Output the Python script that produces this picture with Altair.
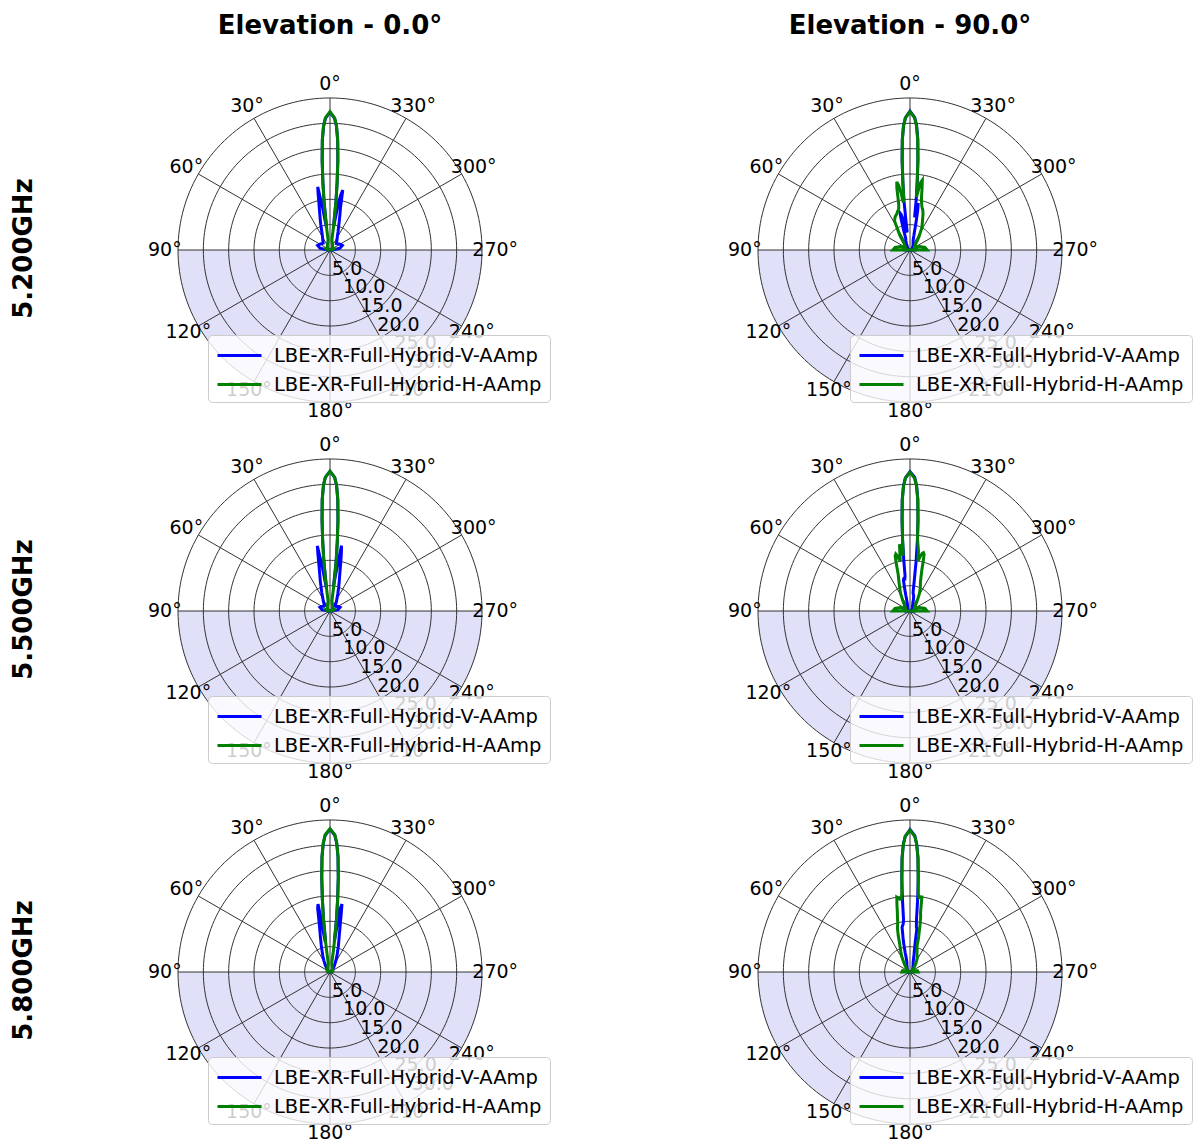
import math
import altair as alt
import pandas as pd

# ---------------- data ----------------
FREQS = ["5.200GHz", "5.500GHz", "5.800GHz"]
ELEVATIONS = ["Elevation - 0.0°", "Elevation - 90.0°"]
SERIES = ["LBE-XR-Full-Hybrid-V-AAmp", "LBE-XR-Full-Hybrid-H-AAmp"]
COLORS = ["#0000ff", "#008000"]

RINGS = [5, 10, 15, 20, 25, 30]
RING_LABELS = ["5.0", "10.0", "15.0", "20.0", "25.0", "30.0"]
SPOKES = [0, 30, 60, 90, 120, 150, 180, 210, 240, 270, 300, 330]
SPOKE_LABELS = ["0°", "30°", "60°", "90°", "120°", "150°", "180°", "210°", "240°", "270°", "300°", "330°"]

# angle in degrees, counter-clockwise from 0° (top)
ANGLES = [-180,
          -90, -80, -70, -60, -45, -35, -28, -24, -20, -18, -16, -15, -14, -13, -12, -11, -10, -9, -8, -7, -6, -5, -4, -3, -2,
          0,
          2, 3, 4, 5, 6, 7, 8, 9, 10, 11, 12, 13, 14, 15, 16, 18, 20, 24, 28, 35, 45, 60, 70, 80, 90,
          180]

V_52_EL0 = [0.0,
            0.5, 2.0, 2.6, 2.3, 1.8, 2.4, 3.1, 3.9, 5.0, 5.9, 7.0, 7.7, 8.5, 10.0, 12.1, 11.0, 8.5, 4.8, 5.5, 9.6, 13.4, 17.7, 21.7, 24.4, 26.0,
            27.2,
            26.0, 24.4, 21.7, 17.7, 13.4, 9.6, 5.5, 4.5, 8.5, 12.7, 11.3, 9.8, 8.8, 8.0, 7.3, 6.2, 5.3, 4.0, 3.2, 2.5, 1.9, 2.3, 2.6, 2.0, 0.5,
            0.0]
H_52_EL0 = [0.0,
            0.0, 0.6, 0.9, 0.8, 0.7, 0.9, 1.1, 1.2, 1.4, 1.5, 1.6, 1.6, 1.7, 1.8, 1.9, 2.0, 2.4, 3.8, 6.3, 9.8, 13.5, 17.8, 21.8, 24.5, 26.1,
            27.3,
            26.1, 24.5, 21.8, 17.8, 13.5, 9.8, 6.3, 3.8, 2.4, 2.0, 1.9, 1.8, 1.7, 1.6, 1.6, 1.5, 1.4, 1.2, 1.1, 0.9, 0.7, 0.8, 0.9, 0.6, 0.0,
            0.0]
V_55_EL0 = [0.0,
            0.3, 1.6, 2.1, 1.8, 1.4, 2.2, 3.0, 3.8, 5.0, 5.8, 6.8, 7.4, 8.2, 9.2, 10.4, 11.8, 13.1, 8.0, 5.0, 9.9, 13.8, 18.0, 22.0, 24.8, 26.4,
            27.6,
            26.4, 24.8, 22.0, 18.0, 13.8, 9.9, 5.8, 4.6, 9.0, 13.1, 11.5, 10.0, 8.8, 8.0, 7.3, 6.2, 5.2, 4.0, 3.1, 2.3, 1.5, 1.8, 2.1, 1.6, 0.3,
            0.0]
H_55_EL0 = [0.0,
            0.0, 0.6, 0.9, 0.8, 0.7, 0.9, 1.1, 1.2, 1.4, 1.5, 1.6, 1.6, 1.7, 1.8, 1.9, 2.0, 2.5, 4.0, 6.6, 10.1, 13.8, 18.1, 22.1, 24.8, 26.4,
            27.6,
            26.4, 24.8, 22.1, 18.1, 13.8, 10.1, 6.6, 4.0, 2.5, 2.0, 1.9, 1.8, 1.7, 1.6, 1.6, 1.5, 1.4, 1.2, 1.1, 0.9, 0.7, 0.8, 0.9, 0.6, 0.0,
            0.0]
V_58_EL0 = [0.0,
            0.0, 0.3, 0.5, 0.6, 0.8, 1.5, 2.4, 3.3, 4.5, 5.3, 6.3, 6.9, 7.6, 8.6, 9.8, 11.5, 13.6, 12.5, 6.0, 10.5, 14.4, 18.7, 22.7, 25.4, 27.0,
            28.2,
            27.0, 25.4, 22.7, 18.7, 14.4, 10.5, 6.5, 6.0, 13.6, 12.8, 10.6, 9.2, 8.2, 7.4, 6.7, 5.6, 4.7, 3.5, 2.6, 1.6, 0.8, 0.6, 0.5, 0.3, 0.0,
            0.0]
H_58_EL0 = [0.0,
            0.0, 0.4, 0.6, 0.6, 0.6, 0.8, 1.0, 1.1, 1.3, 1.4, 1.5, 1.5, 1.6, 1.7, 1.8, 2.0, 2.6, 4.3, 7.0, 10.6, 14.5, 18.8, 22.8, 25.5, 27.1,
            28.3,
            27.1, 25.5, 22.8, 18.8, 14.5, 10.6, 7.0, 4.3, 2.6, 2.0, 1.8, 1.7, 1.6, 1.5, 1.5, 1.4, 1.3, 1.1, 1.0, 0.8, 0.6, 0.6, 0.6, 0.4, 0.0,
            0.0]
V_52_EL90 = [0.0,
             1.0, 1.0, 0.8, 0.5, 0.8, 1.0, 1.3, 1.5, 1.8, 2.0, 2.5, 3.0, 3.5, 4.5, 6.0, 8.0, 9.4, 8.0, 6.5, 10.0, 13.8, 18.0, 22.0, 24.7, 26.2,
             27.4,
             26.1, 24.5, 21.8, 17.8, 13.5, 9.8, 5.5, 3.5, 4.0, 4.5, 5.5, 6.5, 7.2, 7.5, 6.5, 4.0, 2.5, 2.0, 1.5, 1.0, 0.8, 0.5, 0.8, 1.0, 1.0,
             0.0]
H_52_EL90 = [0.0,
             3.4, 3.0, 2.0, 1.0, 1.5, 3.0, 5.0, 6.0, 7.5, 8.2, 8.7, 9.0, 9.5, 10.0, 11.0, 12.5, 14.0, 13.5, 12.0, 10.5, 13.6, 17.8, 21.8, 24.5, 26.1,
             27.3,
             26.1, 24.5, 21.8, 17.8, 13.5, 10.0, 9.5, 11.5, 13.0, 13.7, 12.5, 10.5, 9.2, 8.6, 8.3, 8.0, 7.6, 7.2, 6.5, 3.5, 1.5, 1.0, 2.0, 3.0, 3.4,
             0.0]
V_55_EL90 = [0.0,
             0.8, 0.8, 0.6, 0.5, 0.6, 0.8, 1.0, 1.3, 1.6, 2.0, 2.5, 2.7, 3.0, 3.2, 3.3, 3.4, 3.5, 4.0, 6.0, 9.8, 13.9, 18.1, 22.1, 24.8, 26.4,
             27.5,
             26.3, 24.7, 22.0, 18.0, 14.0, 10.0, 7.0, 6.5, 6.6, 6.5, 6.2, 5.0, 4.0, 3.2, 2.5, 2.0, 1.5, 1.2, 1.0, 0.8, 0.6, 0.5, 0.6, 0.8, 0.8,
             0.0]
H_55_EL90 = [0.0,
             3.4, 3.0, 2.0, 1.0, 1.5, 2.5, 4.0, 5.0, 6.0, 7.0, 8.5, 10.0, 11.5, 11.8, 11.6, 11.2, 10.5, 10.0, 12.0, 13.0, 14.2, 18.0, 22.0, 24.6, 26.2,
             27.4,
             26.2, 24.6, 21.9, 17.9, 14.0, 11.0, 12.5, 13.3, 11.5, 10.0, 10.5, 11.2, 11.6, 11.3, 10.0, 7.5, 6.5, 5.0, 4.0, 2.5, 1.5, 1.0, 2.0, 3.0, 3.4,
             0.0]
V_58_EL90 = [0.0,
             0.5, 0.5, 0.5, 0.5, 0.8, 1.0, 1.2, 1.5, 1.8, 2.0, 2.4, 2.7, 3.0, 3.5, 4.0, 4.8, 5.8, 8.6, 9.0, 10.5, 14.5, 18.7, 22.6, 25.3, 26.9,
             28.1,
             26.8, 25.2, 22.5, 18.5, 14.2, 10.5, 9.6, 9.3, 9.0, 7.5, 6.4, 5.0, 4.0, 3.0, 2.5, 2.0, 1.8, 1.5, 1.2, 1.0, 0.8, 0.5, 0.5, 0.5, 0.5,
             0.0]
H_58_EL90 = [0.0,
             1.6, 1.5, 0.8, 0.5, 1.0, 2.0, 3.0, 3.5, 4.0, 4.5, 5.0, 5.5, 7.0, 8.0, 9.5, 11.0, 12.0, 15.0, 15.0, 14.8, 15.5, 18.5, 22.5, 25.2, 26.8,
             28.0,
             26.8, 25.2, 22.5, 18.5, 15.5, 14.5, 14.5, 14.8, 15.0, 13.5, 12.0, 11.0, 10.0, 9.5, 9.0, 7.5, 6.0, 4.5, 3.5, 2.0, 1.0, 0.5, 0.5, 1.5, 1.6,
             0.0]

PATTERNS = {
    (0, 0): (V_52_EL0, H_52_EL0),
    (0, 1): (V_52_EL90, H_52_EL90),
    (1, 0): (V_55_EL0, H_55_EL0),
    (1, 1): (V_55_EL90, H_55_EL90),
    (2, 0): (V_58_EL0, H_58_EL0),
    (2, 1): (V_58_EL90, H_58_EL90),
}
for v, h in PATTERNS.values():
    assert len(v) == len(ANGLES) and len(h) == len(ANGLES)

# ---------------- style / layout ----------------
FONT = "DejaVu Sans"
RMAX = RINGS[-1]
SHADE = "#e0e0f8"
GRID = "#333333"
RLABEL_ANGLE = 222.5
YDOM = [-34.73, 35.52]
PANEL_H = 356
TICK_FS = 19
LEG_FS = 19.5
HEAD_FS = 26


def xy(r, a):
    t = math.radians(a)
    return -r * math.sin(t), r * math.cos(t)


def label_radius(a):
    # angle-tick labels sit just outside the outer ring (a little closer at the bottom)
    c = math.cos(math.radians(a))
    s = math.sin(math.radians(a))
    return 32.3 + 0.45 * c + 0.3 * s * s


ring_rows = []
for r in RINGS:
    for k, a in enumerate(range(0, 362, 2)):
        x, y = xy(r, a)
        ring_rows.append({"ring": r, "k": k, "x": x, "y": y})
ring_df = pd.DataFrame(ring_rows)

spoke_rows = []
for a in SPOKES:
    x, y = xy(RMAX, a)
    spoke_rows.append({"x0": 0.0, "y0": 0.0, "x1": x, "y1": y})
spoke_df = pd.DataFrame(spoke_rows)

shade_rows = []
for a in range(90, 272, 2):
    x, y = xy(RMAX, a)
    shade_rows.append({"x": x, "y": y, "y0": 0.0})
shade_df = pd.DataFrame(shade_rows)

alab_rows = []
for a, t in zip(SPOKES, SPOKE_LABELS):
    x, y = xy(label_radius(a), a)
    alab_rows.append({"x": x, "y": y, "t": t})
alab_df = pd.DataFrame(alab_rows)

rlab_rows = []
for r, t in zip(RINGS, RING_LABELS):
    x, y = xy(r, RLABEL_ANGLE)
    rlab_rows.append({"x": x, "y": y, "t": t})
rlab_df = pd.DataFrame(rlab_rows)


def make_panel(fi, ei):
    is_left = ei == 0
    width = 440 if is_left else 470
    xdom = [-37.5, 49.34] if is_left else [-37.5, 55.26]
    xs = alt.Scale(domain=xdom, nice=False, zero=False)
    ys = alt.Scale(domain=YDOM, nice=False, zero=False)
    if is_left:
        yax = alt.Axis(title=FREQS[fi], labels=False, ticks=False, domain=False, grid=False,
                       titleFontSize=HEAD_FS, titleFontWeight="bold", titleFont=FONT,
                       titleColor="black", titlePadding=104)
    else:
        yax = None

    def enc(xf, yf):
        return dict(x=alt.X(xf, type="quantitative", scale=xs, axis=None),
                    y=alt.Y(yf, type="quantitative", scale=ys, axis=yax))

    shade = alt.Chart(shade_df).mark_area(color=SHADE, orient="vertical").encode(
        **enc("x", "y"), y2=alt.Y2("y0"))
    rings = alt.Chart(ring_df).mark_line(color=GRID, strokeWidth=1).encode(
        **enc("x", "y"), detail="ring:N", order="k:Q")
    spokes = alt.Chart(spoke_df).mark_rule(color=GRID, strokeWidth=1).encode(
        **enc("x0", "y0"), x2=alt.X2("x1"), y2=alt.Y2("y1"))

    vals_v, vals_h = PATTERNS[(fi, ei)]
    cdf = pd.concat([
        pd.DataFrame({"angle": ANGLES, "value": vals_v, "idx": range(len(ANGLES)), "series": SERIES[0]}),
        pd.DataFrame({"angle": ANGLES, "value": vals_h, "idx": range(len(ANGLES)), "series": SERIES[1]}),
    ])
    legend = alt.Legend(title=None, orient="none", legendX=68 if is_left else 130, legendY=265,
                        direction="vertical", symbolType="M-1,0H3", symbolSize=484,
                        symbolStrokeWidth=3, labelFontSize=LEG_FS, labelFont=FONT, labelColor="black",
                        labelLimit=600, labelOffset=33, padding=8, rowPadding=7,
                        fillColor="rgba(255,255,255,0.8)", strokeColor="#cccccc", cornerRadius=4)
    color = alt.Color("series:N", scale=alt.Scale(domain=SERIES, range=COLORS), legend=legend)
    base = alt.Chart(cdf).transform_calculate(
        px="-datum.value*sin(datum.angle*PI/180)",
        py="datum.value*cos(datum.angle*PI/180)")
    layers = []
    for s in SERIES:
        layers.append(base.transform_filter(alt.datum.series == s).mark_line(strokeWidth=3).encode(
            **enc("px", "py"), color=color, order="idx:Q"))

    alabs = alt.Chart(alab_df).mark_text(font=FONT, fontSize=TICK_FS, color="black").encode(
        **enc("x", "y"), text="t:N")
    rlabs = alt.Chart(rlab_df).mark_text(font=FONT, fontSize=TICK_FS, color="black").encode(
        **enc("x", "y"), text="t:N")

    ch = alt.layer(shade, rings, spokes, *layers, alabs, rlabs).properties(width=width, height=PANEL_H)
    if fi == 0:
        ch = ch.properties(title=alt.TitleParams(ELEVATIONS[ei], fontSize=HEAD_FS, fontWeight="bold", font=FONT,
                                                 color="black", offset=31, frame="group", anchor="middle",
                                                 dx=-30 if is_left else -45))
    return ch


rows = []
for fi in range(3):
    row = alt.hconcat(make_panel(fi, 0), make_panel(fi, 1), spacing=140).resolve_scale(
        x="independent", y="independent", color="independent").resolve_legend(color="independent")
    rows.append(row)

chart = alt.vconcat(*rows, spacing=5).resolve_scale(
    x="independent", y="independent", color="independent").resolve_legend(color="independent").properties(
    padding={"left": 2, "top": 5, "right": 0, "bottom": 0}).configure_view(strokeWidth=0)

chart.save("out.html", embed_options={"renderer": "svg", "actions": False})
